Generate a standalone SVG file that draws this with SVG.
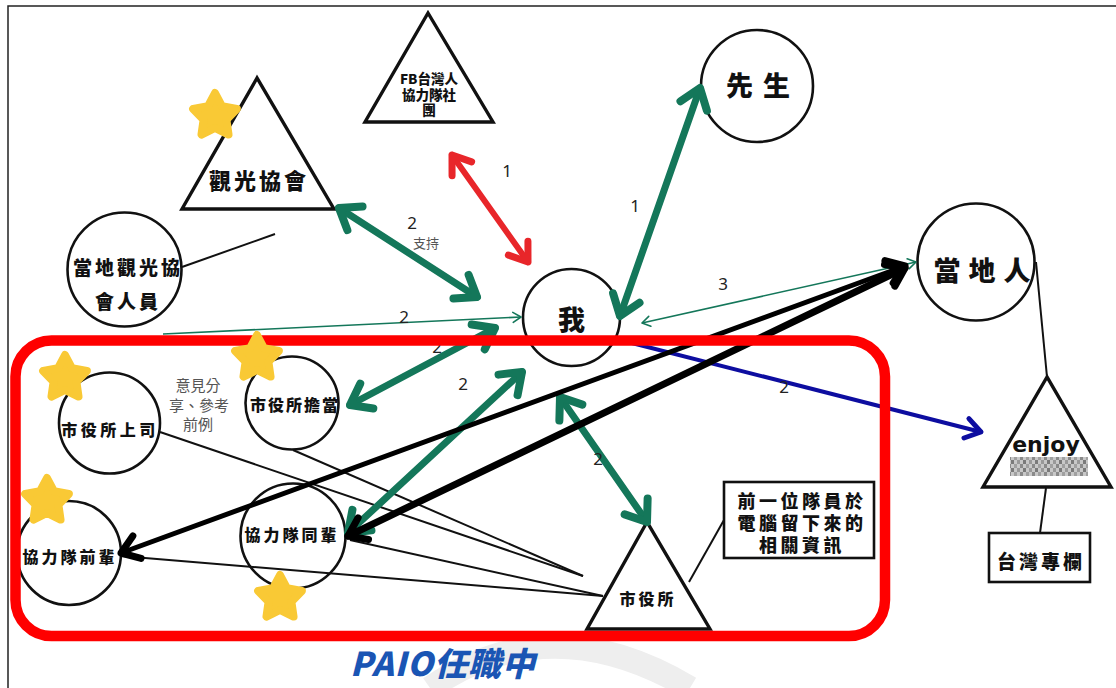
<svg xmlns="http://www.w3.org/2000/svg" width="1116" height="688" viewBox="0 0 1116 688">
<style>
.frame{fill:none;stroke:#222;stroke-width:1.5}
.c{fill:#fff;stroke:#111;stroke-width:2.6}
.t{fill:#fff;stroke:#111;stroke-width:3.4;stroke-linejoin:miter}
.r{fill:#fff;stroke:#111;stroke-width:2.6}
.ln{fill:none;stroke:#111;stroke-width:2}
.b{font-family:"Noto Sans CJK TC","Noto Sans CJK SC",sans-serif;font-weight:900;fill:#111;text-anchor:middle}
.n{font-family:"Noto Sans","Open Sans",sans-serif;font-size:17px;fill:#222;text-anchor:middle}
.g{font-family:"Noto Sans CJK TC","Noto Sans CJK SC",sans-serif;font-weight:400;fill:#555;text-anchor:middle}
.aG{fill:none;stroke:#14775a;stroke-width:7;stroke-linecap:round;marker-start:url(#mG);marker-end:url(#mG)}
.aR{fill:none;stroke:#e8262a;stroke-width:6;stroke-linecap:round;marker-start:url(#mR);marker-end:url(#mR)}
.aK{fill:none;stroke:#000;stroke-linecap:round;marker-start:url(#mK);marker-end:url(#mK)}
.aB{fill:none;stroke:#0d0da0;stroke-width:4;stroke-linecap:round;marker-end:url(#mB)}
.aT{fill:none;stroke:#14775a;stroke-width:1.6}
.star{fill:#f9c935;stroke:#f9c935;stroke-width:8;stroke-linejoin:round}
</style>
<defs>
<marker id="mG" viewBox="-30 -22 36 44" markerWidth="36" markerHeight="44" refX="0" refY="0" orient="auto-start-reverse" markerUnits="userSpaceOnUse"><path d="M-19,-14 L0,0 L-19,14" fill="none" stroke="#14775a" stroke-width="8" stroke-linecap="round" stroke-linejoin="round"/></marker>
<marker id="mR" viewBox="-30 -22 36 44" markerWidth="36" markerHeight="44" refX="0" refY="0" orient="auto-start-reverse" markerUnits="userSpaceOnUse"><path d="M-17,-12 L0,0 L-17,12" fill="none" stroke="#e8262a" stroke-width="7" stroke-linecap="round" stroke-linejoin="round"/></marker>
<marker id="mK" viewBox="-30 -22 36 44" markerWidth="36" markerHeight="44" refX="0" refY="0" orient="auto-start-reverse" markerUnits="userSpaceOnUse"><path d="M-17,-12 L0,0 L-17,12" fill="none" stroke="#000" stroke-width="7" stroke-linecap="round" stroke-linejoin="round"/></marker>
<marker id="mB" viewBox="-30 -22 36 44" markerWidth="36" markerHeight="44" refX="0" refY="0" orient="auto-start-reverse" markerUnits="userSpaceOnUse"><path d="M-15,-10 L0,0 L-15,10" fill="none" stroke="#0d0da0" stroke-width="5" stroke-linecap="round" stroke-linejoin="round"/></marker>
<marker id="mT" viewBox="-14 -10 18 20" markerWidth="18" markerHeight="20" refX="0" refY="0" orient="auto-start-reverse" markerUnits="userSpaceOnUse"><path d="M-8,-5 L0,0 L-8,5" fill="none" stroke="#14775a" stroke-width="1.6" stroke-linecap="round" stroke-linejoin="round"/></marker>
<path id="starShape" d="M0,-23 L7.05,-9.71 L21.87,-7.11 L11.41,3.71 L13.52,18.61 L0,12 L-13.52,18.61 L-11.41,3.71 L-21.87,-7.11 L-7.05,-9.71 Z"/>
<pattern id="px" width="12" height="8" patternUnits="userSpaceOnUse">
<rect width="12" height="8" fill="#c8c8c8"/>
<rect x="0" y="0" width="3" height="4" fill="#8a8a8a"/>
<rect x="6" y="0" width="3" height="4" fill="#a0a0a0"/>
<rect x="3" y="4" width="3" height="4" fill="#7a7a7a"/>
<rect x="9" y="4" width="3" height="4" fill="#999"/>
</pattern>
</defs>
<rect width="1116" height="688" fill="#fff"/>
<path d="M430,688 Q550,605 690,688" fill="none" stroke="#eeeeee" stroke-width="24"/>
<path class="frame" d="M8,688 L8,6 L1116,6"/>

<g id="node-fb">
<polygon class="t" points="428,13 365,122 493,122"/>
<text class="b" font-size="13.5" x="429" y="84">FB台灣人</text>
<text class="b" font-size="13.5" x="429" y="99.5">協力隊社</text>
<text class="b" font-size="13.5" x="429" y="115">團</text>
</g>
<g id="node-kanko">
<polygon class="t" points="257,78 182,209 334,209"/>
<text class="b" font-size="22" letter-spacing="3" x="259" y="189">觀光協會</text>
</g>
<g id="node-kanko-staff">
<circle class="c" cx="124.5" cy="269.5" r="57"/>
<text class="b" font-size="19" letter-spacing="3" x="128" y="275">當地觀光協</text>
<text class="b" font-size="19" letter-spacing="3" x="128" y="309">會人員</text>
</g>
<g id="node-husband">
<circle class="c" cx="757" cy="86" r="56"/>
<text class="b" font-size="27" letter-spacing="10" x="763" y="96">先生</text>
</g>
<g id="node-locals">
<circle class="c" cx="976" cy="262" r="58.5"/>
<text class="b" font-size="27" letter-spacing="8" x="986" y="281">當地人</text>
</g>
<g id="node-me">
<circle class="c" cx="571.5" cy="317.5" r="48.5"/>
<text class="b" font-size="27" x="571.5" y="330">我</text>
</g>
<g id="node-enjoy">
<polygon class="t" points="1047,377 983,487 1111,487"/>
<text x="1046" y="452" text-anchor="middle" font-family="DejaVu Sans, sans-serif" font-weight="bold" font-size="22" fill="#111">enjoy</text>
<rect x="1010" y="457" width="78" height="19" fill="url(#px)"/>
</g>
<g id="node-column">
<rect class="r" x="989" y="533" width="101" height="49"/>
<text class="b" font-size="19" letter-spacing="3" x="1041" y="569">台灣專欄</text>
</g>
<g id="node-boss">
<circle class="c" cx="109.5" cy="423" r="50.5"/>
<text class="b" font-size="16" letter-spacing="3.5" x="110" y="436">市役所上司</text>
</g>
<g id="node-tanto">
<circle class="c" cx="292" cy="403" r="46.5"/>
<text class="b" font-size="16" letter-spacing="2" x="295" y="411">市役所擔當</text>
</g>
<g id="node-senpai">
<circle class="c" cx="69" cy="553" r="52"/>
<text class="b" font-size="16" letter-spacing="3" x="70" y="563">協力隊前輩</text>
</g>
<g id="node-peer">
<circle class="c" cx="293" cy="536" r="52.5"/>
<text class="b" font-size="16" letter-spacing="3" x="292" y="541">協力隊同輩</text>
</g>
<g id="node-cityhall">
<polygon class="t" points="647,522 587,629 710,629"/>
<text class="b" font-size="16" letter-spacing="3" x="648" y="605">市役所</text>
</g>
<g id="node-info">
<rect class="r" x="724" y="482" width="150" height="76"/>
<text class="b" font-size="18" letter-spacing="3.5" x="802" y="508">前一位隊員於</text>
<text class="b" font-size="18" letter-spacing="3.5" x="802" y="530">電腦留下來的</text>
<text class="b" font-size="18" letter-spacing="3.5" x="802" y="552">相關資訊</text>
</g>
<g id="note-opinion">
<text class="g" font-size="15" x="198" y="391">意見分</text>
<text class="g" font-size="15" x="199" y="411">享、參考</text>
<text class="g" font-size="15" x="198" y="430">前例</text>
</g>

<g id="connectors">
<path class="ln" d="M182,267 L275,234"/>
<path class="ln" d="M1036,262 L1047,377"/>
<path class="ln" d="M1046,488 L1040,533"/>
<path class="ln" d="M689,582 L724,520"/>
<path class="ln" d="M160,432 L583,576"/>
<path class="ln" d="M293,450 L583,576"/>
<path class="ln" d="M350,540 L603,596"/>
<path class="ln" d="M121,556 L603,596"/>
<path class="aR" d="M452,155 L528,262"/>
<text class="n" x="507" y="177">1</text>
<path class="aG" d="M339,208 L477,297"/>
<text class="n" x="412" y="229">2</text>
<text class="g" font-size="13" x="426" y="248">支持</text>
<path class="aG" d="M700,88 L620,316"/>
<text class="n" x="635" y="212">1</text>
<path class="aT" d="M163,334 L521,317" marker-end="url(#mT)"/>
<text class="n" x="404" y="323">2</text>
<path class="aT" d="M642,323 L916,262" marker-start="url(#mT)" marker-end="url(#mT)"/>
<text class="n" x="723" y="290">3</text>
<path class="aG" d="M350,405 L495,328"/>
<text class="n" x="437" y="353">2</text>
<path class="aG" d="M348,533 L522,372"/>
<text class="n" x="463" y="390">2</text>
<path class="aG" d="M560,397 L647,522"/>
<text class="n" x="598" y="465">2</text>
<path class="aB" d="M620,340 L981,432"/>
<text class="n" x="784" y="393">2</text>
<path class="aK" stroke-width="5" d="M905,266 L121,553"/>
<path class="aK" stroke-width="7" d="M905,268 L348,536"/>
</g>

<g id="paio-frame">
<rect x="15.5" y="340.5" width="869.5" height="295.5" rx="36" fill="none" stroke="#ff0000" stroke-width="10.5"/>
<text x="443" y="676" text-anchor="middle" font-family="Noto Sans CJK TC, sans-serif" font-weight="900" font-size="33" letter-spacing="1" fill="#1a55b4" font-style="italic">PAIO任職中</text>
</g>

<g id="stars">
<use href="#starShape" class="star" x="215" y="116"/>
<use href="#starShape" class="star" x="65" y="378"/>
<use href="#starShape" class="star" x="257" y="358"/>
<use href="#starShape" class="star" x="47" y="501"/>
<use href="#starShape" class="star" x="280" y="598"/>
</g>
</svg>
